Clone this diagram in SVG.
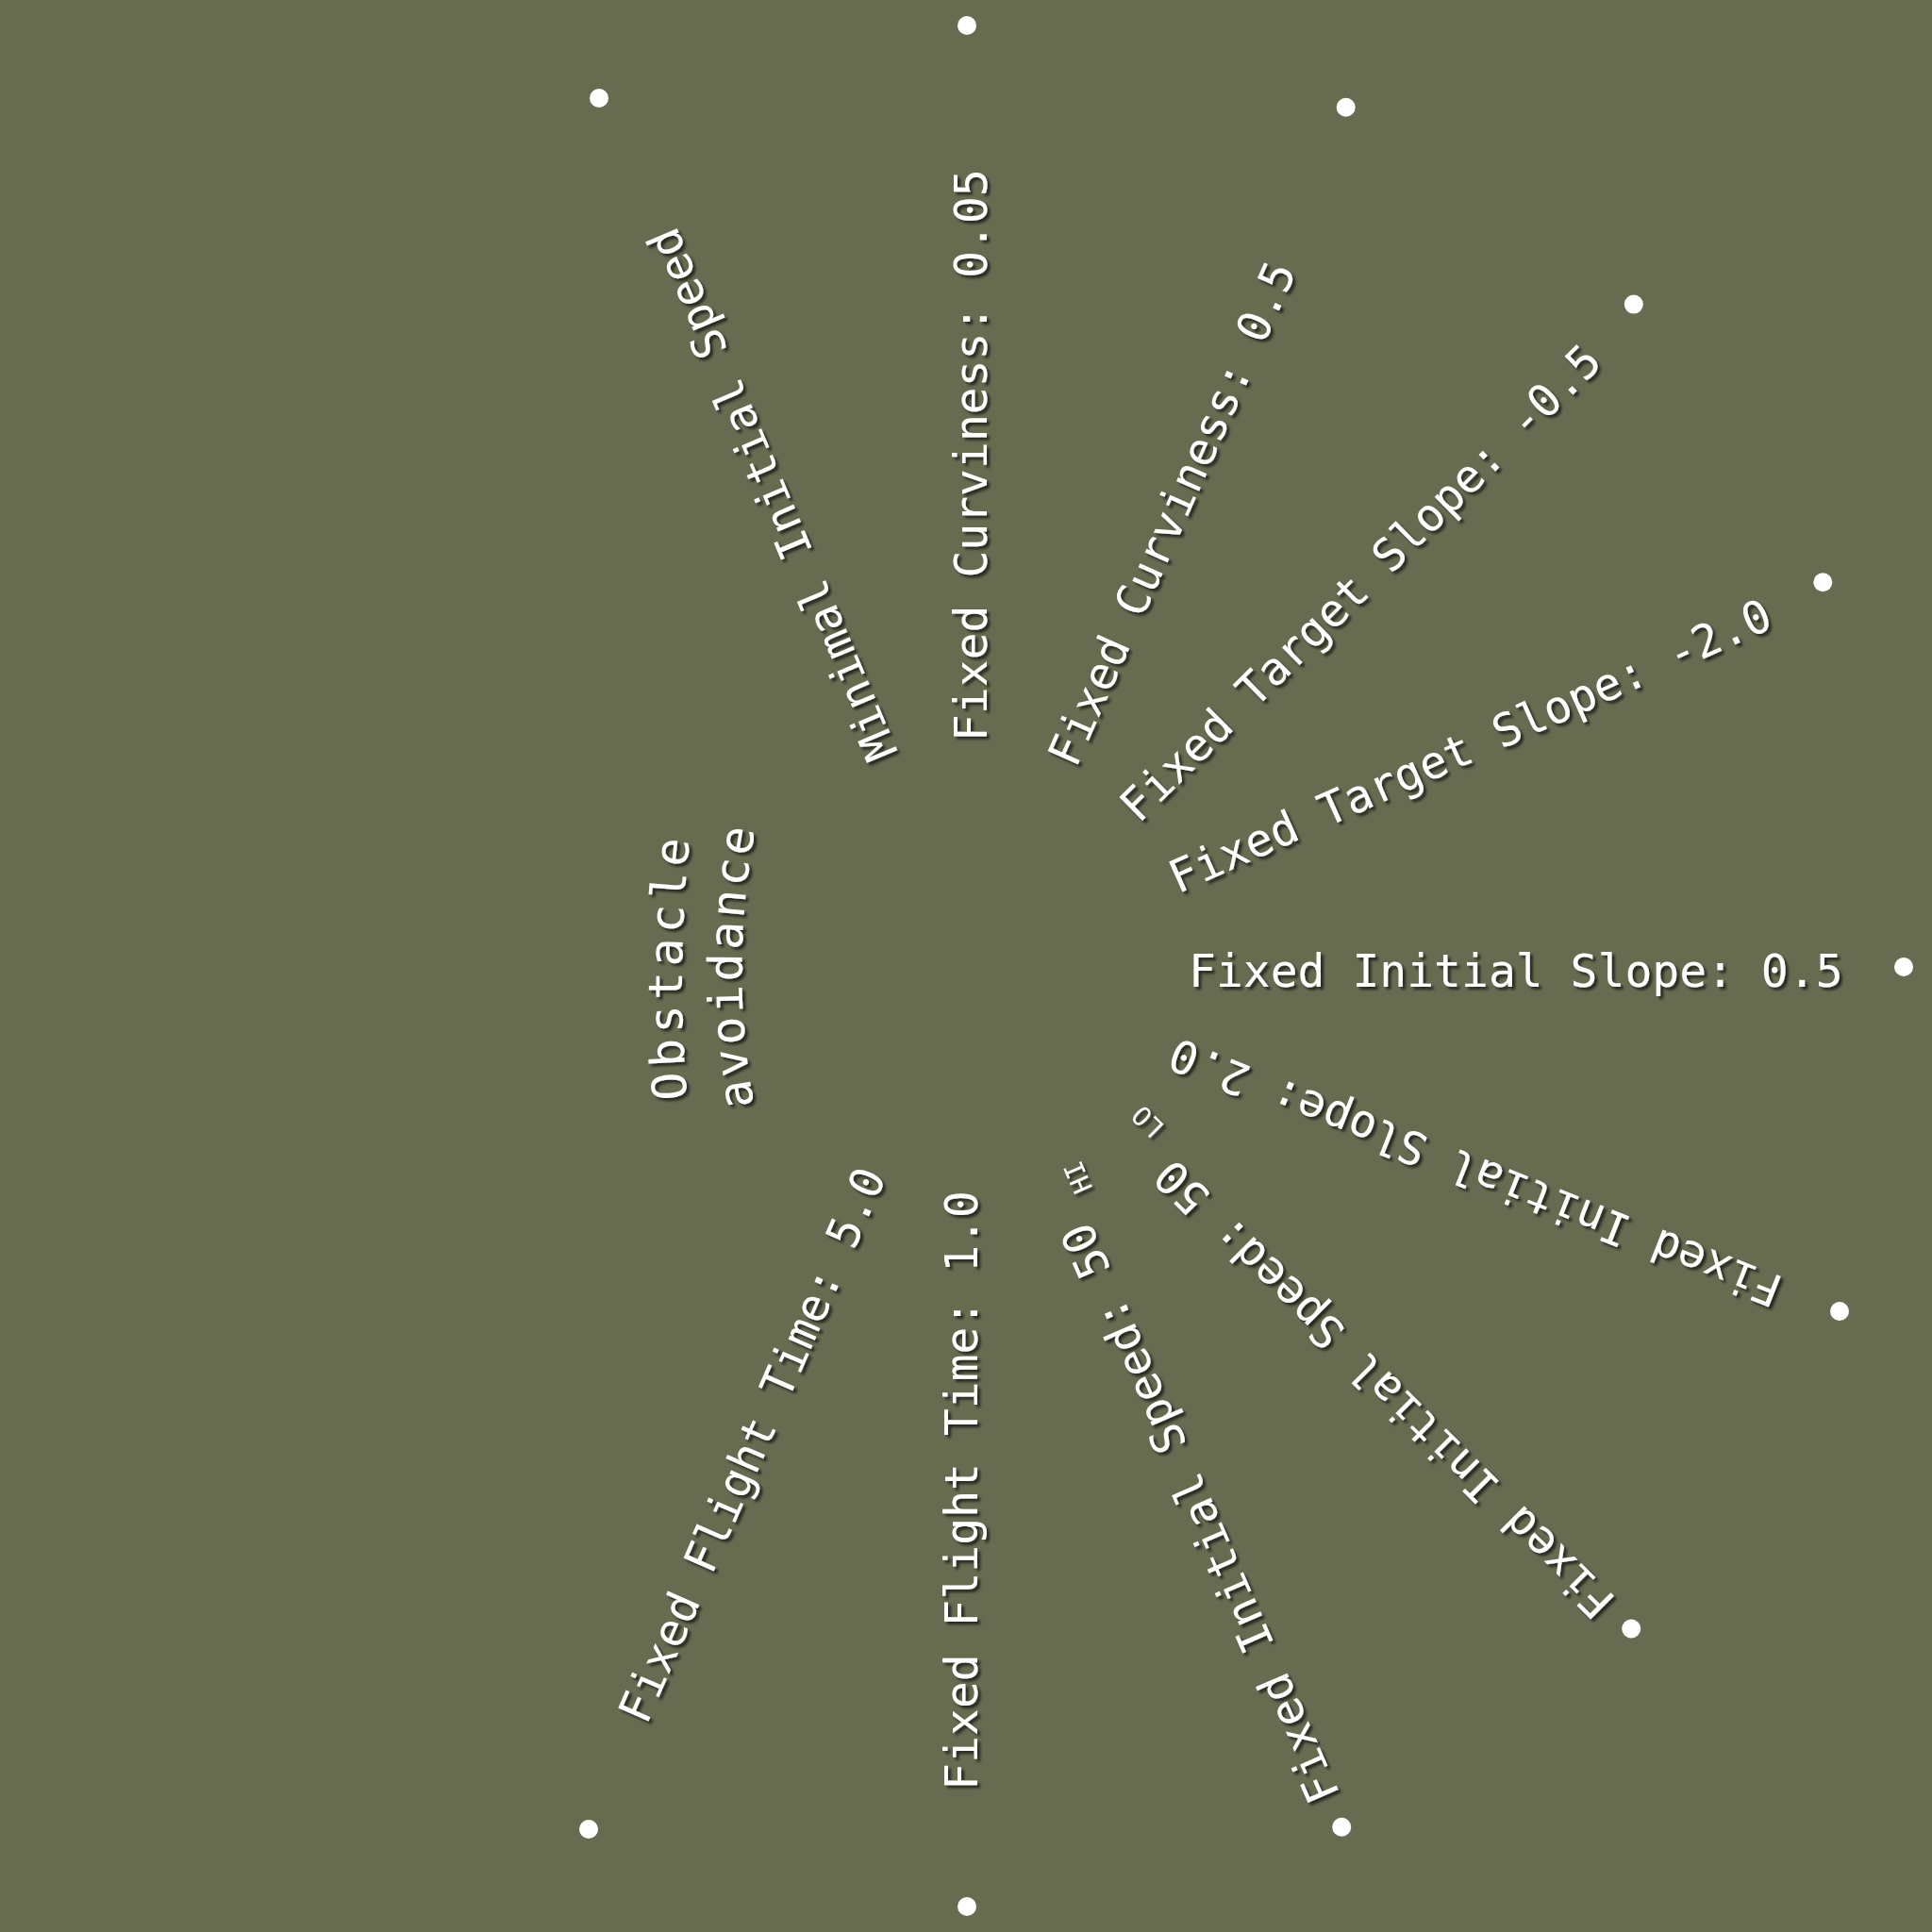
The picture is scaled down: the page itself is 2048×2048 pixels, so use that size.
<svg xmlns="http://www.w3.org/2000/svg" width="2048" height="2048" viewBox="0 0 2048 2048">
<defs>
<style>
.lbl{font-family:"DejaVu Sans Mono","Liberation Mono",monospace;font-size:48px;fill:#ffffff}
.up{text-anchor:start}
.dn{text-anchor:end}
.sub{font-size:28px}
.obs{font-family:"DejaVu Sans Mono","Liberation Mono",monospace;font-size:50px;fill:#ffffff;text-anchor:middle}
.dot{fill:#ffffff}
</style>
<filter id="sh" filterUnits="userSpaceOnUse" x="0" y="0" width="2048" height="2048">
<feDropShadow dx="3" dy="3" stdDeviation="1.5" flood-color="#000000" flood-opacity="0.65"/>
</filter>
<path id="pObs" d="M 732 1200 Q 712 1024 736 850"/>
<path id="pAvo" d="M 806 1205 Q 766 1024 808 843"/>
</defs>
<rect x="0" y="0" width="2048" height="2048" fill="#676c51"/>
<g id="connectors"/>
<g id="n-minimal-initial-speed">
<circle class="dot" cx="635" cy="104" r="10"/>
<g filter="url(#sh)"><text class="lbl up" transform="translate(1024,1024) rotate(-112.9)" x="237" y="22">Minimal Initial Speed</text></g>
</g>
<g id="n-fixed-curviness-005">
<circle class="dot" cx="1025" cy="27" r="10"/>
<g filter="url(#sh)"><text class="lbl up" transform="translate(1024,1024) rotate(-90)" x="238" y="22">Fixed Curviness: 0.05</text></g>
</g>
<g id="n-fixed-curviness-05">
<circle class="dot" cx="1426.7" cy="113.7" r="10"/>
<g filter="url(#sh)"><text class="lbl up" transform="translate(1024,1024) rotate(-66.1)" x="238" y="22">Fixed Curviness: 0.5</text></g>
</g>
<g id="n-fixed-target-slope-m05">
<circle class="dot" cx="1731.8" cy="322.6" r="10"/>
<g filter="url(#sh)"><text class="lbl up" transform="translate(1024,1024) rotate(-44.7)" x="236" y="22">Fixed Target Slope: -0.5</text></g>
</g>
<g id="n-fixed-target-slope-m20">
<circle class="dot" cx="1932.3" cy="617.3" r="10"/>
<g filter="url(#sh)"><text class="lbl up" transform="translate(1024,1024) rotate(-24.1)" x="236" y="22">Fixed Target Slope: -2.0</text></g>
</g>
<g id="n-fixed-initial-slope-05">
<circle class="dot" cx="2018" cy="1025" r="10"/>
<g filter="url(#sh)"><text class="lbl up" transform="translate(1024,1024) rotate(0)" x="236" y="22">Fixed Initial Slope: 0.5</text></g>
</g>
<g id="n-fixed-initial-slope-20">
<circle class="dot" cx="1950" cy="1390" r="10"/>
<g filter="url(#sh)"><text class="lbl dn" transform="translate(1024,1024) rotate(201.6)" x="-236" y="12">Fixed Initial Slope: 2.0</text></g>
</g>
<g id="n-fixed-initial-speed-50-lo">
<circle class="dot" cx="1729.2" cy="1726.5" r="10"/>
<g filter="url(#sh)"><text class="lbl dn" transform="translate(1024,1024) rotate(224.9)" x="-236" y="12">Fixed Initial Speed: 50 <tspan class="sub" baseline-shift="sub">LO</tspan></text></g>
</g>
<g id="n-fixed-initial-speed-50-hi">
<circle class="dot" cx="1422.2" cy="1936.8" r="10"/>
<g filter="url(#sh)"><text class="lbl dn" transform="translate(1024,1024) rotate(246.4)" x="-236" y="12">Fixed Initial Speed: 50 <tspan class="sub" baseline-shift="sub">HI</tspan></text></g>
</g>
<g id="n-fixed-flight-time-10">
<circle class="dot" cx="1025" cy="2021" r="10"/>
<g filter="url(#sh)"><text class="lbl dn" transform="translate(1024,1024) rotate(270)" x="-238" y="12">Fixed Flight Time: 1.0</text></g>
</g>
<g id="n-fixed-flight-time-50">
<circle class="dot" cx="624" cy="1939" r="10"/>
<g filter="url(#sh)"><text class="lbl dn" transform="translate(1024,1024) rotate(293.6)" x="-238" y="12">Fixed Flight Time: 5.0</text></g>
</g>
<g id="n-obstacle-avoidance">
<g filter="url(#sh)">
<text class="obs" letter-spacing="5"><textPath href="#pObs" startOffset="50%">Obstacle</textPath></text>
<text class="obs" letter-spacing="3"><textPath href="#pAvo" startOffset="50%">avoidance</textPath></text>
</g>
</g>
</svg>
